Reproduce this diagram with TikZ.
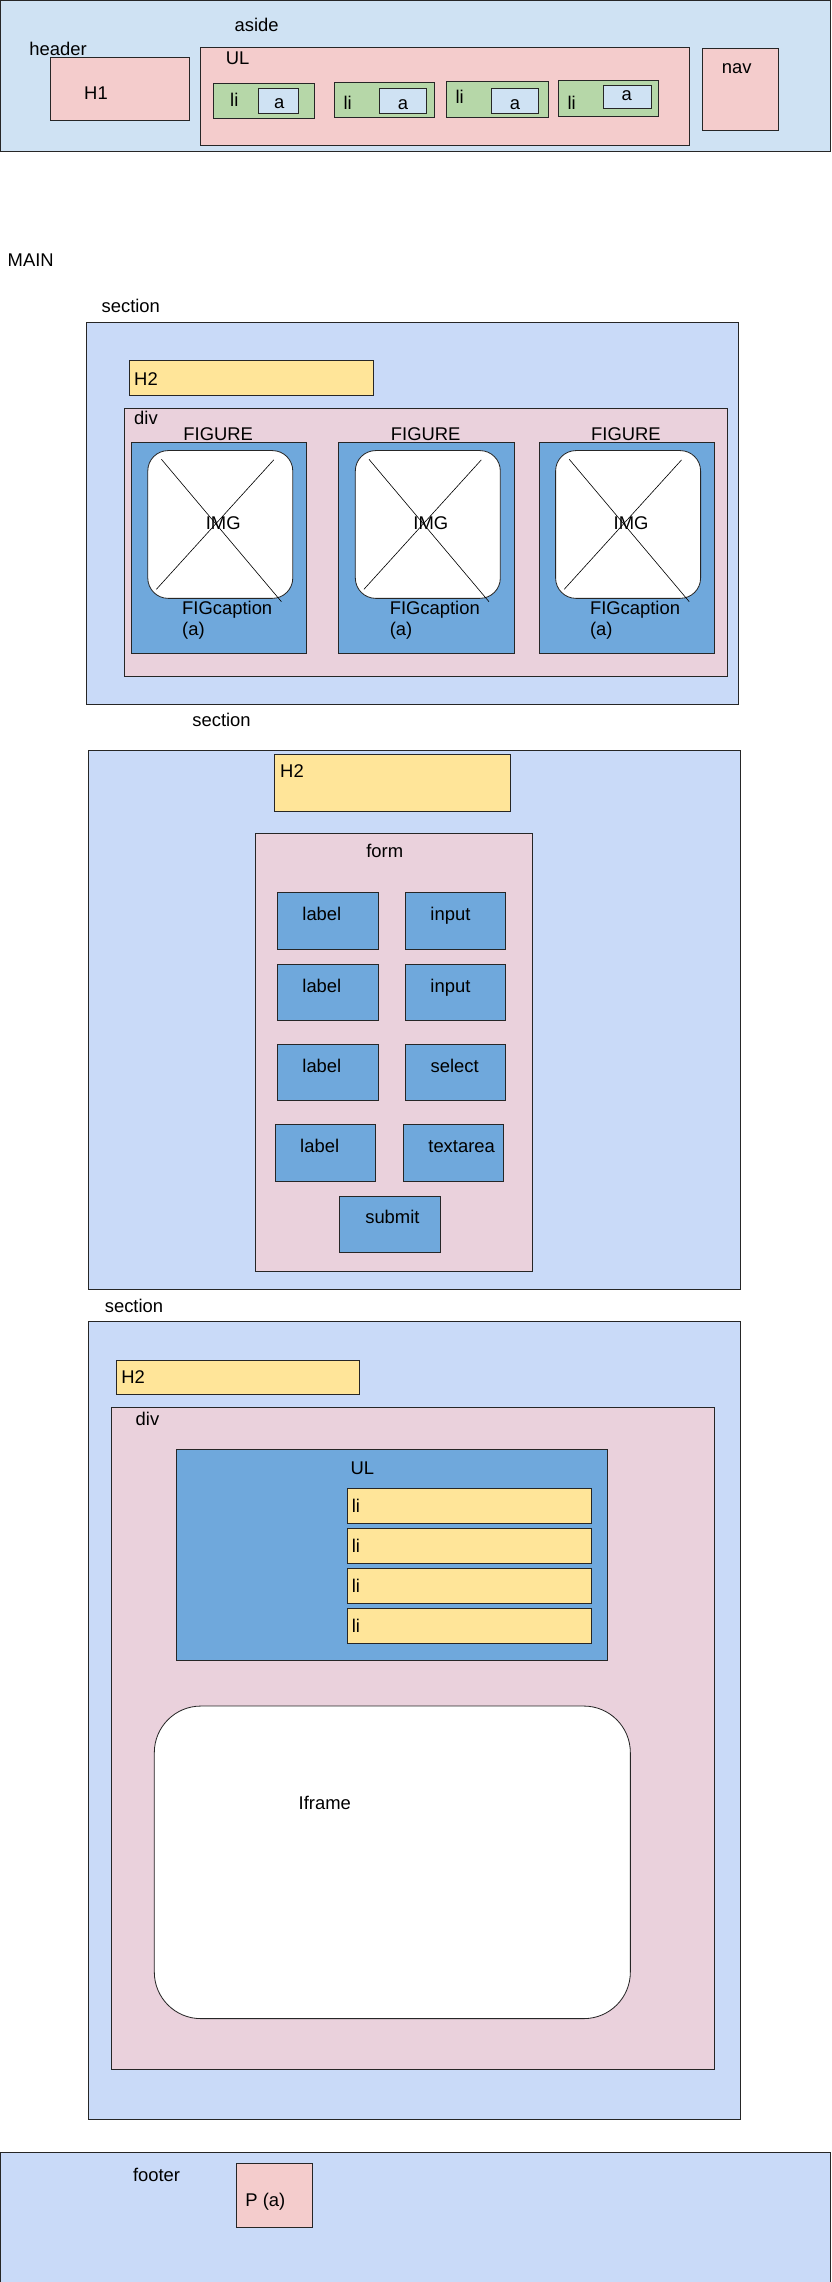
\documentclass[tikz,border=0pt]{standalone}
\usepackage{fontspec}
\setmainfont{Liberation Sans}
\definecolor{hdrblue}{HTML}{CFE2F3}
\definecolor{secblue}{HTML}{C9DAF8}
\definecolor{rosebox}{HTML}{F4CCCC}
\definecolor{divpink}{HTML}{EAD1DC}
\definecolor{ligreen}{HTML}{B6D7A8}
\definecolor{figblue}{HTML}{6FA8DC}
\definecolor{hyellow}{HTML}{FFE599}

\begin{document}
\begin{tikzpicture}[x=0.05cm,y=-0.05cm,line width=0.8pt,
   every node/.style={inner sep=0pt,font=\fontsize{18}{21}\selectfont},
   box/.style={draw=black!85}]
   \useasboundingbox (0,0) rectangle (572,1569);
   % header
   \filldraw[box,fill=hdrblue] (0,0) rectangle (571,104);
   \node[anchor=base west] (hdr) at (20,38.5) {header};
   \node[anchor=base west] (asd) at (161,21.5) {aside};
   \filldraw[box,fill=rosebox] (35,39.5) rectangle (130,82.5);
   \node[anchor=base] (h1) at (66,68.5) {H1};
   \filldraw[box,fill=rosebox] (138,32.5) rectangle (474,100);
   \node[anchor=base west] (ul) at (155,44.5) {UL};
   \filldraw[box,fill=rosebox] (483,33) rectangle (535,90);
   \node[anchor=base west] (nav) at (496,50.5) {nav};
   \filldraw[box,fill=ligreen] (147,57.3) rectangle (216,81.4);
   \filldraw[box,fill=hdrblue] (178,61) rectangle (205.5,78);
   \node[anchor=base west] (li1) at (158,73) {li};
   \node[anchor=base] (a1) at (192,74.5) {a};
   \filldraw[box,fill=ligreen] (230,56.6) rectangle (299,80.9);
   \filldraw[box,fill=hdrblue] (261,61) rectangle (293,78);
   \node[anchor=base west] (li2) at (236,75) {li};
   \node[anchor=base] (a2) at (277,75) {a};
   \filldraw[box,fill=ligreen] (307,55.7) rectangle (377,80.7);
   \filldraw[box,fill=hdrblue] (338,61) rectangle (370,78);
   \node[anchor=base west] (li3) at (313,71) {li};
   \node[anchor=base] (a3) at (354,75) {a};
   \filldraw[box,fill=ligreen] (384,55) rectangle (453,80);
   \filldraw[box,fill=hdrblue] (415,58.7) rectangle (448,74.5);
   \node[anchor=base west] (li4) at (390,75) {li};
   \node[anchor=base] (a4) at (431,69) {a};

   \node[anchor=base west] (main) at (5,183) {MAIN};

   % first section: figures
   \node[anchor=base west] (sec1) at (69.6,215) {section};
   \filldraw[box,fill=secblue] (59.4,221.6) rectangle (507.4,484.2);
   \filldraw[box,fill=hyellow] (89,247.7) rectangle (256.7,271.8);
   \node[anchor=base west] (h2a) at (92,265) {H2};
   \filldraw[box,fill=divpink] (85.6,280.7) rectangle (500.4,465.2);
   \node[anchor=base west] (diva) at (92,292) {div};
   \foreach \dx [count=\i] in {0,142.7,280.4} {
      \filldraw[box,fill=figblue] ({90.3+\dx},304) rectangle ({210.7+\dx},449.2);
      \node[anchor=base] (fig\i) at ({150+\dx},303) {FIGURE};
      \filldraw[box,fill=white,rounded corners=0.7cm] ({101.6+\dx},309.8) rectangle ({201.3+\dx},411.4);
      \draw[line width=0.6pt] ({111+\dx},315.8) -- ({193.5+\dx},413.7);
      \draw[line width=0.6pt] ({188.2+\dx},316.2) -- ({107.5+\dx},405.2);
      \node[anchor=base] (img\i) at ({153.5+\dx},364) {IMG};
      \node[anchor=base west] (cap\i) at ({125+\dx},422.7) {FIGcaption};
      \node[anchor=base west] (capa\i) at ({125+\dx},437) {(a)};
   }

   % second section: form
   \node[anchor=base west] (sec2) at (132,499.5) {section};
   \filldraw[box,fill=secblue] (60.8,516) rectangle (508.9,886.4);
   \filldraw[box,fill=hyellow] (188.6,518.6) rectangle (350.8,557.9);
   \node[anchor=base west] (h2b) at (192.4,534.5) {H2};
   \filldraw[box,fill=divpink] (175.7,573) rectangle (365.8,874);
   \node[anchor=base] (form) at (264.5,589.5) {form};
   \filldraw[box,fill=figblue] (190.7,613.6) rectangle (260.1,652.6);
   \node[anchor=base] (lab1) at (221.3,633) {label};
   \filldraw[box,fill=figblue] (278.9,613.6) rectangle (347.6,652.6);
   \node[anchor=base] (inp1) at (309.7,633) {input};
   \filldraw[box,fill=figblue] (190.7,663) rectangle (260.1,701.4);
   \node[anchor=base] (lab2) at (221.3,682.5) {label};
   \filldraw[box,fill=figblue] (278.9,663) rectangle (347.6,701.4);
   \node[anchor=base] (inp2) at (309.7,682.5) {input};
   \filldraw[box,fill=figblue] (190.7,718) rectangle (260.1,756.4);
   \node[anchor=base] (lab3) at (221.3,737.5) {label};
   \filldraw[box,fill=figblue] (278.9,718) rectangle (347.6,756.4);
   \node[anchor=base] (sel) at (312.6,737.5) {select};
   \filldraw[box,fill=figblue] (189.3,773) rectangle (258,812);
   \node[anchor=base] (lab4) at (219.8,792.5) {label};
   \filldraw[box,fill=figblue] (277.4,773) rectangle (345.9,812);
   \node[anchor=base] (txa) at (317.4,792.5) {textarea};
   \filldraw[box,fill=figblue] (233.3,822.5) rectangle (302.7,861);
   \node[anchor=base] (sub) at (269.8,841.5) {submit};

   % third section: list and iframe
   \node[anchor=base west] (sec3) at (71.8,902.5) {section};
   \filldraw[box,fill=secblue] (60.8,908.6) rectangle (508.9,1457);
   \filldraw[box,fill=hyellow] (80,935.5) rectangle (247.2,959);
   \node[anchor=base west] (h2c) at (83.2,951.5) {H2};
   \filldraw[box,fill=divpink] (76.8,967.5) rectangle (491.3,1422.8);
   \node[anchor=base] (divb) at (101.4,979.8) {div};
   \filldraw[box,fill=figblue] (121.4,996.6) rectangle (417.8,1141.4);
   \node[anchor=base] (ulb) at (249.2,1013.8) {UL};
   \foreach \ty [count=\i] in {1023.5,1050.8,1078.4,1106} {
      \filldraw[box,fill=hyellow] (238.9,\ty) rectangle (406.7,{\ty+24});
      \node[anchor=base west] (item\i) at (241.6,{\ty+16.6}) {li};
   }
   \filldraw[box,fill=white,rounded corners=1.6cm] (106.1,1173) rectangle (433.4,1387.9);
   \node[anchor=base] (ifr) at (223.3,1244.3) {Iframe};

   % footer
   \filldraw[box,fill=secblue] (0,1480) rectangle (571,1580);
   \node[anchor=base west] (ftr) at (91.2,1500) {footer};
   \filldraw[box,fill=rosebox] (162.7,1487.4) rectangle (214.9,1531.4);
   \node[anchor=base west] (par) at (168.5,1517) {P (a)};
\end{tikzpicture}
\end{document}
